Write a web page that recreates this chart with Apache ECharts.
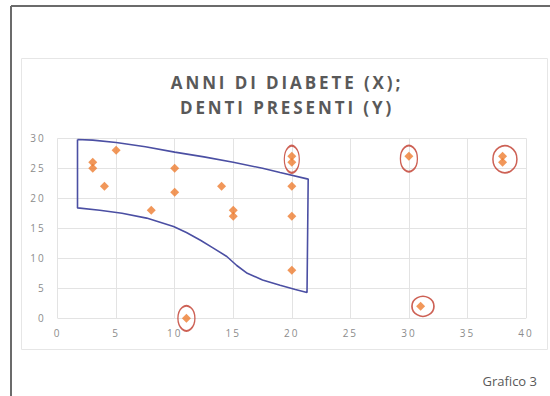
<!DOCTYPE html>
<html>
<head>
<meta charset="utf-8">
<script src="https://cdn.jsdelivr.net/npm/echarts@6/dist/echarts.min.js"></script>
<style>html,body{margin:0;padding:0;background:#fff;}#c{width:550px;height:396px;}</style>
</head>
<body>
<div id="c"></div>
<script>
var titleLines = ['ANNI DI DIABETE (X);', 'DENTI PRESENTI (Y)'];
var captionText = 'Grafico 3';
var xTicks = [0, 5, 10, 15, 20, 25, 30, 35, 40];
var yTicks = [0, 5, 10, 15, 20, 25, 30];
// Anni di diabete (x)
var anniDiabete = [3, 3, 4, 5, 8, 10, 10, 11, 14, 15, 15, 20, 20, 20, 20, 20, 30, 31, 38, 38];
// Denti presenti (y)
var dentiPresenti = [26, 25, 22, 28, 18, 25, 21, 0, 22, 18, 17, 27, 26, 22, 17, 8, 27, 2, 27, 26];
// Blue outline (data coordinates)
var areaOutline = [
  [1.7, 29.8], [3, 29.7], [5, 29.3], [7.5, 28.6], [10, 27.7], [12.5, 26.9], [15, 26.0], [17.5, 25.0], [19, 24.3], [21.4, 23.2],
  [21.3, 4.3], [20.3, 4.8], [19, 5.5], [17.5, 6.4], [16.2, 7.5], [15.3, 8.8], [14.45, 10.3], [13.3, 11.7], [12.2, 13.0], [11, 14.3],
  [9.9, 15.3], [7.6, 16.7], [5.5, 17.5], [3.6, 18.0], [1.7, 18.4], [1.7, 29.8]
];
// Red ellipse centres (data coordinates)
var ellipseX = [11, 20, 30, 38.2, 31.2];
var ellipseY = [0, 26.5, 26.6, 26.5, 2];

var scatterData = anniDiabete.map(function (x, i) { return [x, dentiPresenti[i]]; });
var ellipseData = ellipseX.map(function (x, i) { return [x, ellipseY[i]]; });
var ellipseSizes = [[17, 25], [15, 27], [17, 26], [24, 27], [22, 20]];

var chart = echarts.init(document.getElementById('c'), null, { renderer: 'svg' });
chart.setOption({
  animation: false,
  backgroundColor: '#ffffff',
  title: {
    text: titleLines.join('\n'),
    left: 282, top: 65, textAlign: 'center',
    textStyle: { fontFamily: 'Open Sans', fontWeight: 'bold', fontSize: 17, color: '#595959', lineHeight: 25 }
  },
  grid: { left: 57.6, right: 24, top: 138.3, bottom: 77.7, containLabel: false },
  xAxis: {
    type: 'value', min: 0, max: 40, interval: 5,
    axisLine: { show: false }, axisTick: { show: false },
    splitLine: { show: true, lineStyle: { color: '#e3e3e3', width: 1 } },
    axisLabel: { color: '#8c8c8c', fontSize: 10, fontFamily: 'Open Sans', margin: 10,
      formatter: function (v) { return xTicks.indexOf(v) >= 0 ? String(v) : ''; } }
  },
  yAxis: {
    type: 'value', min: 0, max: 30, interval: 5,
    axisLine: { show: false }, axisTick: { show: false },
    splitLine: { show: true, lineStyle: { color: '#e3e3e3', width: 1 } },
    axisLabel: { color: '#8c8c8c', fontSize: 10, fontFamily: 'Open Sans', margin: 12,
      formatter: function (v) { return yTicks.indexOf(v) >= 0 ? String(v) : ''; } }
  },
  series: [
    {
      type: 'line', data: areaOutline, symbol: 'none', smooth: false,
      lineStyle: { color: '#4b4fa3', width: 1.6 }, z: 3
    },
    {
      type: 'scatter', data: scatterData, symbol: 'diamond', symbolSize: 9,
      itemStyle: { color: '#ed7d31' }, z: 5
    },
    {
      type: 'scatter', data: ellipseData, symbol: 'circle',
      symbolSize: function (val, params) { return ellipseSizes[params.dataIndex]; },
      itemStyle: { color: 'rgba(0,0,0,0)', borderColor: '#c0392b', borderWidth: 1.6 }, z: 4
    }
  ],
  graphic: [
    { type: 'line', shape: { x1: 11, y1: 6, x2: 11, y2: 396 }, style: { stroke: '#6b6b6b', lineWidth: 2 } },
    { type: 'line', shape: { x1: 11, y1: 6, x2: 550, y2: 6 }, style: { stroke: '#6b6b6b', lineWidth: 2 } },
    { type: 'rect', shape: { x: 21.5, y: 58.5, width: 526, height: 291 }, style: { fill: 'none', stroke: '#e6e6e6', lineWidth: 1 }, z: -1 },
    { type: 'text', right: 13, top: 374, style: { text: captionText, fill: '#595959', font: '13px "Open Sans"' } }
  ]
});

function spaceText() {
  var texts = document.querySelectorAll('#c svg text');
  texts.forEach(function (t) {
    var s = (t.textContent || '').trim();
    if (titleLines.indexOf(s) >= 0) {
      t.setAttribute('letter-spacing', '2.9');
    } else if (/^\d+$/.test(s)) {
      t.setAttribute('letter-spacing', '2');
    }
  });
}
spaceText();
chart.on('finished', spaceText);
</script>
</body>
</html>
